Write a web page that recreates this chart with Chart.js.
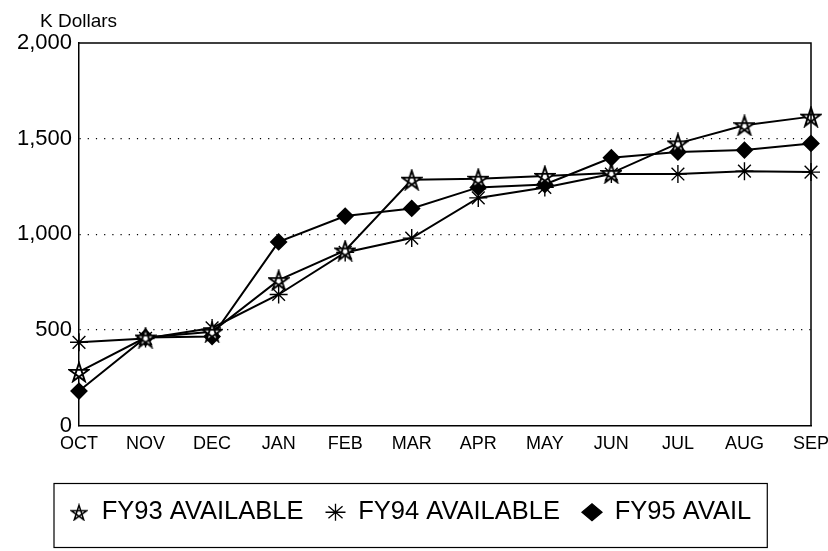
<!DOCTYPE html>
<html>
<head>
<meta charset="utf-8">
<style>
  html, body { margin: 0; padding: 0; background: #fff; }
  #wrap { width: 828px; height: 551px; }
</style>
<script src="https://cdn.jsdelivr.net/npm/chart.js@4.4.1/dist/chart.umd.min.js"></script>
</head>
<body>
<div id="wrap"><canvas id="availChart" width="828" height="551"></canvas></div>
<script>
const months = ['OCT', 'NOV', 'DEC', 'JAN', 'FEB', 'MAR', 'APR', 'MAY', 'JUN', 'JUL', 'AUG', 'SEP'];
const fy93 = [280, 460, 490, 760, 915, 1285, 1290, 1305, 1320, 1475, 1570, 1615];
const fy94 = [435, 455, 510, 685, 905, 980, 1190, 1245, 1315, 1315, 1330, 1325];
const fy95 = [180, 460, 465, 960, 1095, 1135, 1245, 1260, 1400, 1430, 1440, 1475];
const seriesNames = ['FY93 AVAILABLE', 'FY94 AVAILABLE', 'FY95 AVAIL'];
const yTicks = [0, 500, 1000, 1500, 2000];

// outlined five point star (pentagram), used as point image
const makeStar = (size, lw) => {
  const c = document.createElement('canvas');
  c.width = size;
  c.height = size;
  const g = c.getContext('2d');
  const r = size / 2 - 1;
  const pts = [];
  for (let k = 0; k < 5; k++) {
    const a = -Math.PI / 2 + k * 2 * Math.PI / 5;
    pts.push([size / 2 + r * Math.cos(a), size / 2 + 1 + r * Math.sin(a)]);
  }
  g.beginPath();
  [0, 2, 4, 1, 3].forEach((i, n) => {
    if (n === 0) g.moveTo(pts[i][0], pts[i][1]);
    else g.lineTo(pts[i][0], pts[i][1]);
  });
  g.closePath();
  g.fillStyle = '#fff';
  g.fill();
  g.strokeStyle = '#000';
  g.lineWidth = lw;
  g.stroke();
  return c;
};

const bigStar = makeStar(22, 1.9);
const smallStar = makeStar(18, 1.5);

// move legend to the right of the canvas edge (y labels need the left strip)
const legendShift = {
  id: 'legendShift',
  afterLayout(chart) {
    chart.legend.left += 47;
  }
};

// box around plot + legend frame + y title
const framePlugin = {
  id: 'frame',
  afterDraw(chart) {
    const ctx = chart.ctx;
    const a = chart.chartArea;
    ctx.save();
    ctx.strokeStyle = '#000';
    ctx.lineWidth = 1.5;
    ctx.beginPath();
    ctx.moveTo(a.left, a.top);
    ctx.lineTo(a.right, a.top);
    ctx.lineTo(a.right, a.bottom);
    ctx.stroke();

    const lg = chart.legend;
    const boxes = lg.legendHitBoxes;
    if (boxes && boxes.length) {
      const first = boxes[0];
      const last = boxes[boxes.length - 1];
      ctx.lineWidth = 1.2;
      ctx.strokeRect(first.left - 15, lg.top + 6, last.left + last.width - first.left + 31, 64);
    }

    ctx.fillStyle = '#000';
    ctx.font = '19px "Liberation Sans", Arial, sans-serif';
    ctx.textBaseline = 'middle';
    ctx.fillText('K Dollars', a.left - 39, 22);
    ctx.restore();
  }
};

const data = {
  labels: months,
  datasets: [
    {
      label: seriesNames[0],
      data: fy93,
      borderColor: '#000',
      borderWidth: 2,
      pointStyle: bigStar,
      pointRadius: 10
    },
    {
      label: seriesNames[1],
      data: fy94,
      borderColor: '#000',
      borderWidth: 2,
      pointStyle: 'star',
      pointRadius: 9,
      pointBorderWidth: 1.4,
      pointBorderColor: '#000'
    },
    {
      label: seriesNames[2],
      data: fy95,
      borderColor: '#000',
      borderWidth: 2,
      pointStyle: 'rectRot',
      pointRadius: 7.5,
      pointBackgroundColor: '#000',
      pointBorderColor: '#000'
    }
  ]
};

const config = {
  type: 'line',
  data: data,
  options: {
    responsive: false,
    animation: false,
    layout: { padding: { left: 0, right: 17, top: 43, bottom: 16 } },
    scales: {
      x: {
        offset: false,
        grid: { display: false, drawTicks: false },
        border: { display: true, color: '#000', width: 1.5 },
        ticks: {
          color: '#000',
          padding: 8,
          maxRotation: 0,
          autoSkip: false,
          font: { family: '"Liberation Sans", Arial, sans-serif', size: 18 }
        },
        afterFit: (scale) => {
          scale.height = 52;
          scale.paddingLeft = 0;
          scale.paddingRight = 0;
        }
      },
      y: {
        min: yTicks[0],
        max: yTicks[yTicks.length - 1],
        afterBuildTicks: (scale) => { scale.ticks = yTicks.map(v => ({ value: v })); },
        grid: {
          drawTicks: false,
          lineWidth: 1.2,
          color: (ctx) => (ctx.tick && ctx.tick.value > yTicks[0] && ctx.tick.value < yTicks[yTicks.length - 1]) ? '#000' : 'rgba(0,0,0,0)'
        },
        border: { display: true, color: '#000', width: 1.5, dash: [1.2, 7] },
        ticks: {
          color: '#000',
          padding: 7,
          font: { family: '"Liberation Sans", Arial, sans-serif', size: 22 },
          callback: (v) => v.toLocaleString('en-US')
        },
        afterFit: (scale) => { scale.width = 79; }
      }
    },
    plugins: {
      title: { display: false },
      tooltip: { enabled: false },
      legend: {
        position: 'bottom',
        align: 'start',
        labels: {
          color: '#000',
          usePointStyle: true,
          boxHeight: 12,
          pointStyleWidth: 20,
          padding: 22,
          font: { family: '"Liberation Sans", Arial, sans-serif', size: 25.5 },
          generateLabels: (chart) => {
            const items = Chart.defaults.plugins.legend.labels.generateLabels(chart);
            items.forEach((it, i) => {
              it.fillStyle = '#000';
              it.strokeStyle = '#000';
              it.lineWidth = 1.3;
              if (i === 0) it.pointStyle = smallStar;
            });
            return items;
          }
        }
      }
    }
  },
  plugins: [legendShift, framePlugin]
};

const availChart = new Chart(document.getElementById('availChart'), config);
</script>
</body>
</html>
